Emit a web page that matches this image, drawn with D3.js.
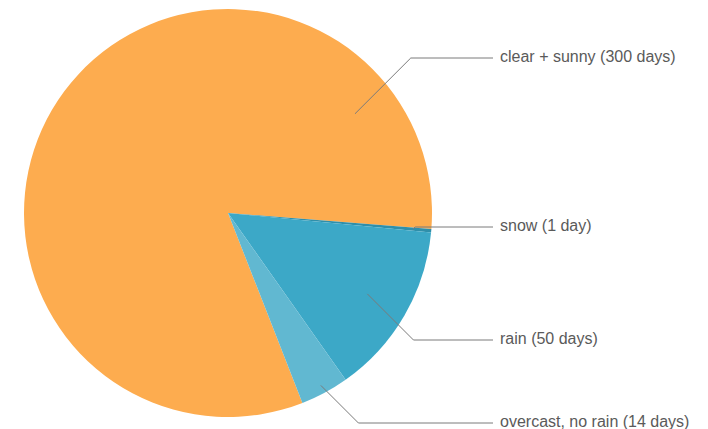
<!DOCTYPE html>
<html>
<head>
<meta charset="utf-8">
<script src="https://cdn.jsdelivr.net/npm/d3@7/dist/d3.min.js"></script>
<style>
  html, body { margin: 0; padding: 0; background: #fff; }
  svg { display: block; }
</style>
</head>
<body>
<div id="chart"></div>
<script>
// ---- data ----
const categories = ["clear + sunny", "snow", "rain", "overcast, no rain"];
const days = [300, 1, 50, 14];
const colors = ["#FDAC4F", "#2F8FAA", "#3CA8C7", "#61B8D1"];

// ---- layout ----
const W = 708, H = 429;
const cx = 228, cy = 213, R = 204;
const startDeg = 158.6;

const svg = d3.select("#chart").append("svg").attr("width", W).attr("height", H);
const g = svg.append("g").attr("transform", `translate(${cx},${cy})`);

const data = categories.map((c, i) => ({ name: c, value: days[i], color: colors[i] }));
const pie = d3.pie().sort(null).value(d => d.value)
  .startAngle(startDeg * Math.PI / 180)
  .endAngle(startDeg * Math.PI / 180 + 2 * Math.PI);
const arcs = pie(data);
const arc = d3.arc().innerRadius(0).outerRadius(R);

g.selectAll("path.slice").data(arcs).enter().append("path")
  .attr("class", "slice")
  .attr("d", arc)
  .attr("fill", d => d.data.color);

// label layout: label line y (absolute) and anchor (angle in deg or slice mid, radius fraction)
const labelY = [58, 227, 340, 423];
const anchorAngle = [52, null, null, null]; // null => slice mid angle
const anchorR = [0.79, 0.91, 0.79, 0.96];
const textX = 500, lineEnd = 493;

const lbl = svg.append("g");
arcs.forEach((a, i) => {
  const mid = anchorAngle[i] != null ? anchorAngle[i] * Math.PI / 180 : (a.startAngle + a.endAngle) / 2;
  const r = R * anchorR[i];
  const ax = cx + r * Math.sin(mid);
  const ay = cy - r * Math.cos(mid);
  const ly = labelY[i];
  const dy = Math.abs(ly - ay);
  const ex = ax + dy;
  lbl.append("path")
    .attr("d", d3.line()([[ax, ay], [ex, ly], [lineEnd, ly]]))
    .attr("fill", "none")
    .attr("stroke", "#7a7a7a")
    .attr("stroke-width", 1);
  const unit = a.data.value === 1 ? "day" : "days";
  lbl.append("text")
    .attr("x", textX)
    .attr("y", ly + 2)
    .attr("font-family", "'Liberation Sans', Arial, sans-serif")
    .attr("font-size", 16)
    .attr("dy", "0.12em")
    .attr("fill", "#5a5a5a")
    .text(`${a.data.name} (${a.data.value} ${unit})`);
});
</script>
</body>
</html>
